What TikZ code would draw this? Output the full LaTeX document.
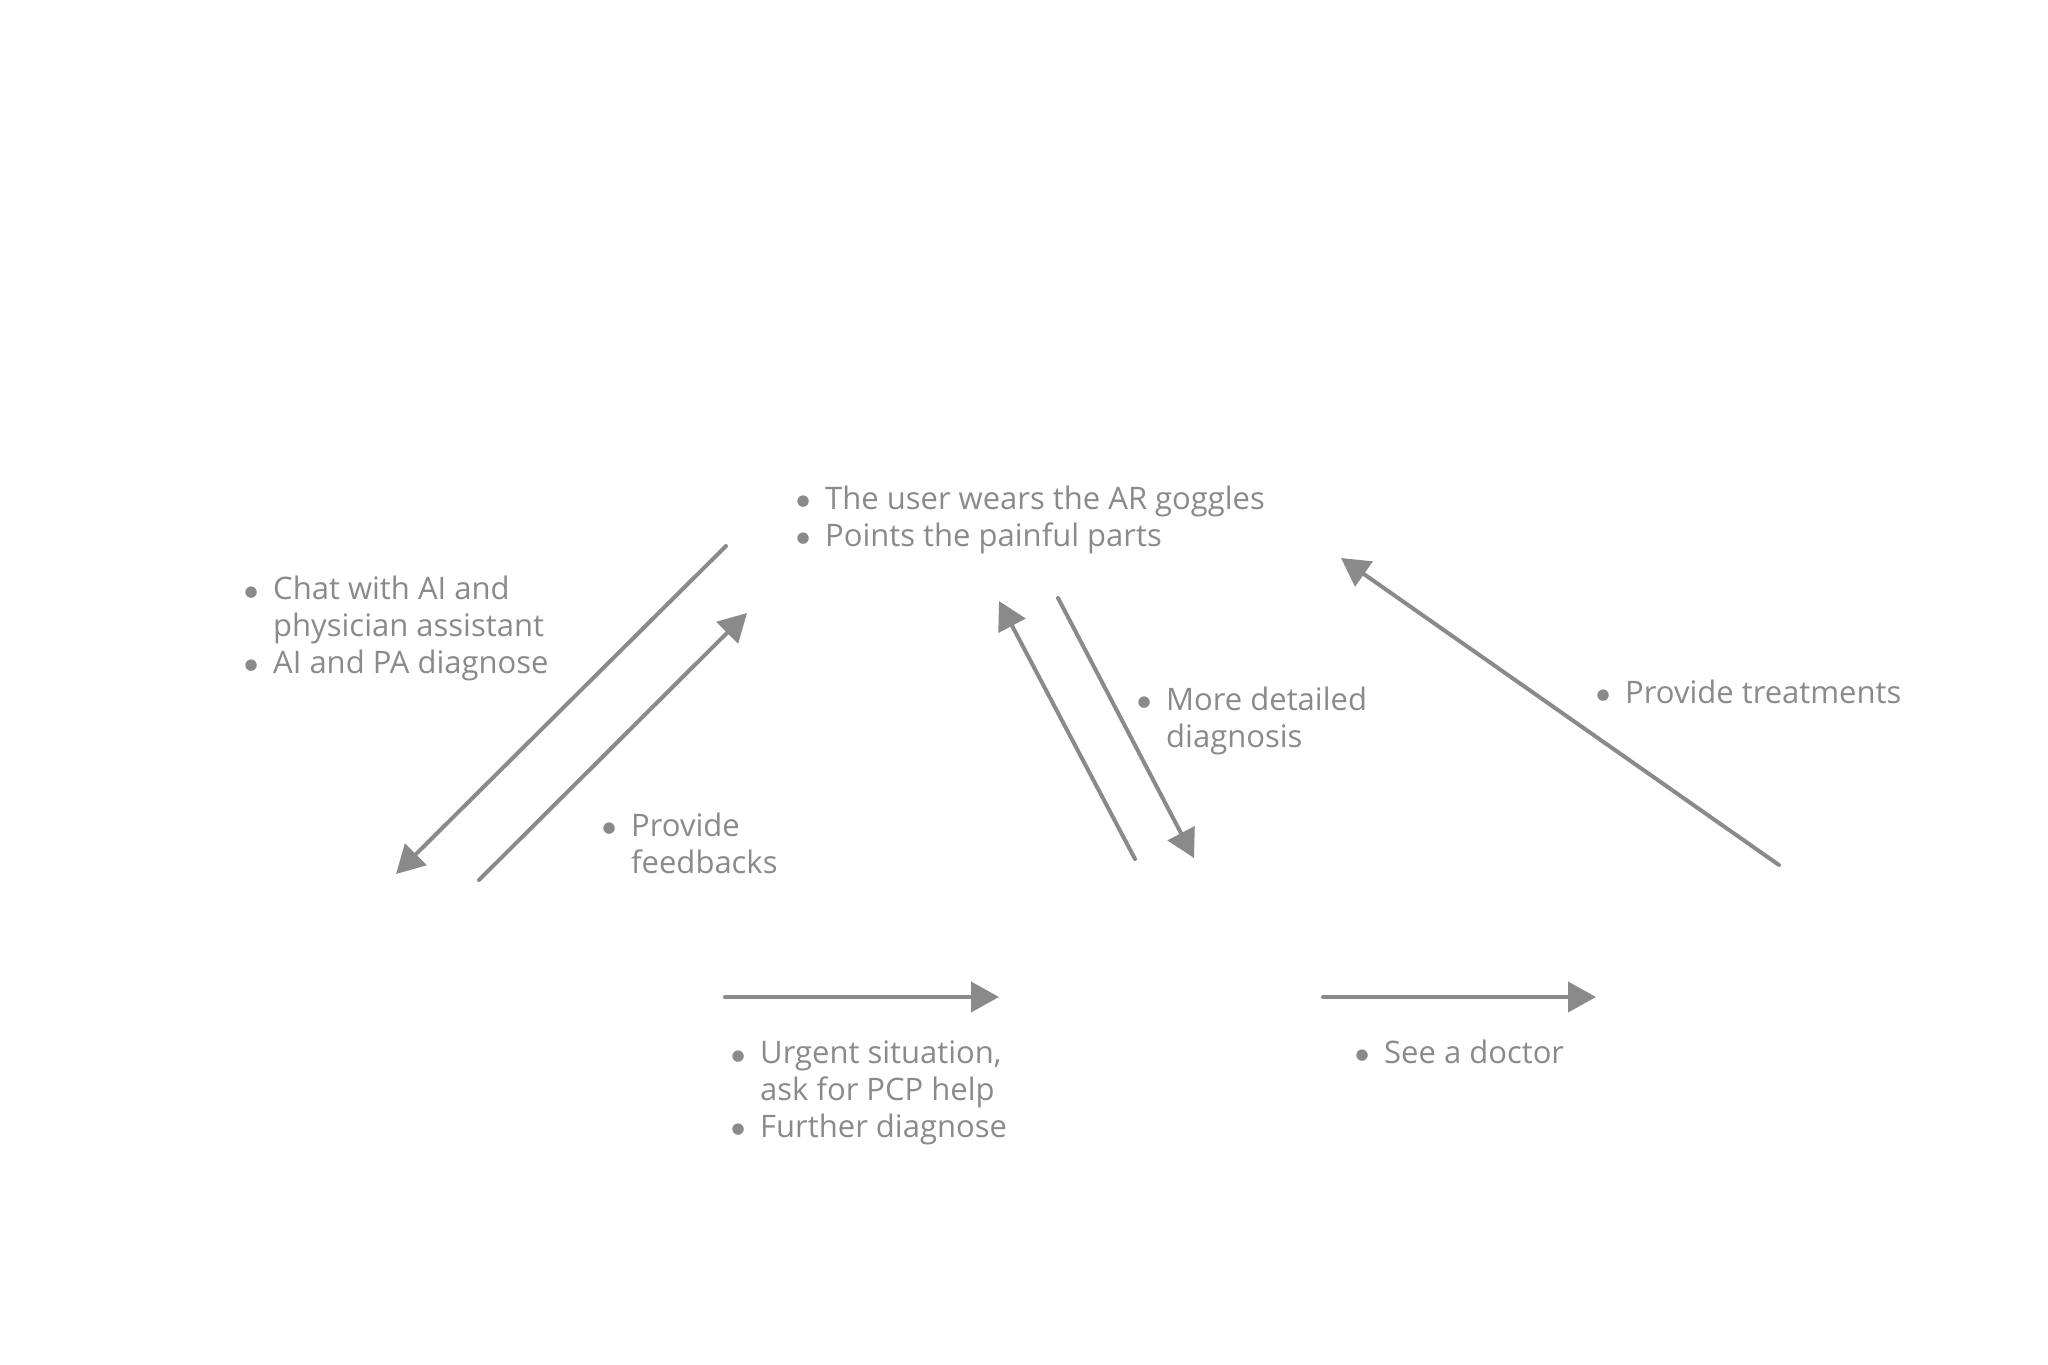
\documentclass[tikz,border=0pt]{standalone}
\usepackage{fontspec}
\setmainfont{Open Sans}
\newfontfamily\dvfont{DejaVu Sans}
\usetikzlibrary{arrows.meta}
\definecolor{ink}{HTML}{8A8A8A}
\tikzset{
  flow/.style={draw=ink, line width=4pt, line cap=round,
    -{Triangle[length=28pt,width=30pt]}},
  lbl/.style={anchor=base west, inner sep=0pt, text=ink,
    font=\fontsize{31}{36.6}\selectfont, align=left},
}
\newcommand{\bdot}{\makebox[0pt][c]{\raisebox{3.5pt}{\dvfont\fontsize{15}{15}\selectfont ●}}}
\newcommand{\bitem}[1]{\makebox[22pt][l]{\bdot}#1}
\newcommand{\bcont}[1]{\hspace*{22pt}#1}
\begin{document}
\begin{tikzpicture}[x=1pt,y=-1pt]
\useasboundingbox (0,0) rectangle (2048,1365);
% connector end points
\coordinate (a1s) at (726,546);  \coordinate (a1e) at (396,874);
\coordinate (a2s) at (479,880);  \coordinate (a2e) at (747,613);
\coordinate (a3s) at (1135,859); \coordinate (a3e) at (999,601);
\coordinate (a4s) at (1058,598); \coordinate (a4e) at (1194,858);
\coordinate (a5s) at (1779,865); \coordinate (a5e) at (1341,558);
\coordinate (a6s) at (725,997);  \coordinate (a6e) at (999,997);
\coordinate (a7s) at (1323,997); \coordinate (a7e) at (1596,997);
\draw[flow] (a1s) -- (a1e);
\draw[flow] (a2s) -- (a2e);
\draw[flow] (a3s) -- (a3e);
\draw[flow] (a4s) -- (a4e);
\draw[flow] (a5s) -- (a5e);
\draw[flow] (a6s) -- (a6e);
\draw[flow] (a7s) -- (a7e);
% labels (anchored at the baseline of their last line, x = bullet centre)
\node[lbl] (top) at (803,546) {\bitem{The user wears the AR goggles}\\\bitem{Points the painful parts}};
\node[lbl] (left) at (251,673) {\bitem{Chat with AI and}\\\bcont{physician assistant}\\\bitem{AI and PA diagnose}};
\node[lbl] (fb) at (609,873) {\bitem{Provide}\\\bcont{feedbacks}};
\node[lbl] (md) at (1144,747) {\bitem{More detailed}\\\bcont{diagnosis}};
\node[lbl] (tr) at (1603,703) {\bitem{Provide treatments}};
\node[lbl] (ur) at (738,1137) {\bitem{Urgent situation,}\\\bcont{ask for PCP help}\\\bitem{Further diagnose}};
\node[lbl] (sd) at (1362,1063) {\bitem{See a doctor}};
\end{tikzpicture}
\end{document}
